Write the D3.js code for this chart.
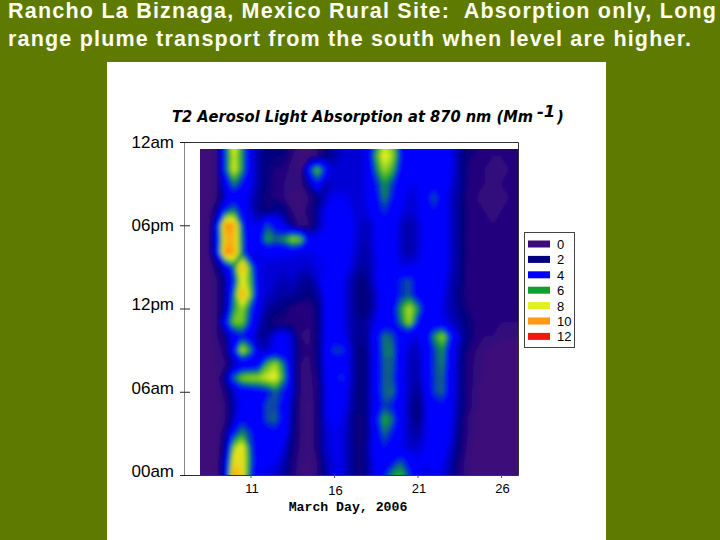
<!DOCTYPE html>
<html>
<head>
<meta charset="utf-8">
<script src="https://cdnjs.cloudflare.com/ajax/libs/d3/7.8.5/d3.min.js"></script>
<style>
html, body { margin: 0; padding: 0; background: #5f7a00; overflow: hidden; }
svg { display: block; }
text { font-family: "Liberation Sans", Arial, sans-serif; fill: #000; }
</style>
</head>
<body>
<svg id="chart" width="720" height="540"></svg>
<script>
var titleLines = [
    "Rancho La Biznaga, Mexico Rural Site:  Absorption only, Long",
    "range plume transport from the south when level are higher."
];
var titleWidths = [708, 683];
var chartTitle = "T2 Aerosol Light Absorption at 870 nm (Mm";
var xAxisTitle = "March Day, 2006";

var dayTicks = [11, 16, 21, 26];
var hourTicks = [24, 18, 12, 6, 0];
var hourLabels = ["12am", "06pm", "12pm", "06am", "00am"];
var legendValues = [0, 2, 4, 6, 8, 10, 12];
var legendColors = ["#3d0a7a", "#000080", "#0000ff", "#10a030", "#e0f020", "#ff9a10", "#f01810"];
// colour ramp of the plot, blue holds a little before it turns green
var rampStops = [0.6, 1.5, 3, 4.2, 6, 8, 10, 12];
var rampColors = ["#3d0a7a", "#000080", "#0000ff", "#0000ff", "#10a030", "#e0f020", "#ff9a10", "#f01810"];

// half day columns, 8 to 27
var days = [8, 8.5, 9, 9.5, 10, 10.5, 11, 11.5, 12, 12.5, 13, 13.5, 14, 14.5, 15, 15.5, 16, 16.5, 17, 17.5,
    18, 18.5, 19, 19.5, 20, 20.5, 21, 21.5, 22, 22.5, 23, 23.5, 24, 24.5, 25, 25.5, 26, 26.5, 27];
// hourly rows, top of the plot first
var hours = [24, 23, 22, 21, 20, 19, 18, 17, 16, 15, 14, 13, 12, 11, 10, 9, 8, 7, 6, 5, 4, 3, 2, 1, 0];

var absorption = [
    [0.5,0.5,1,5,9,6,3,2,1.5,1.5,  1.5,1.2,0.8,0.6,1,1.5,2,2.5,2.5,2.5,  3,5.5,7.5,7,4,3,3,3.5,4,4,  3,2,1.5,1.5,1.2,1.2,1.2,1.2,1.2],
    [0.5,0.5,1,5,8,6,3,2,1.5,1.5,  1.5,1,0.7,0.6,1,1.5,2,2.5,2.5,2.5,  3,6.3,8.5,7.5,4.5,3,3,3.5,4,3.8,  3,2,1.3,1.2,1,1,1,1,1],
    [0.5,0.5,1,5,8.2,6,3,2,1.5,1.2,  1.2,0.8,0.7,4.5,7,4.5,2.5,2.5,2.5,2.5,  3,5.5,7.5,6.5,4,3,3,3.5,4,3.8,  3,2,1.3,1,1,0.9,0.9,1,1],
    [0.5,0.5,1,3.5,5.8,4.5,3,2,1.5,1.2,  1,0.8,0.8,2,4.5,2,2.5,2.5,2.5,2.5,  3,4.5,6,5,3.5,3,3,3.5,4,3.5,  2.8,2,1.3,1,1,0.9,1,1,1],
    [0.5,0.5,1,2.5,3.8,3.5,2.5,1.8,1.3,1.2,  1,0.7,0.7,1,1.5,2.5,3,3,2.8,2.5,  3,4,5.8,4.5,3.5,2.5,2.8,4,5.3,3.5,  2.5,1.8,1.2,1,0.9,0.8,0.8,1,1],
    [0.5,0.5,2,5,6,4,2.5,1.8,1.5,2,  1.8,1,0.7,1.2,2,3,3.4,3.4,3,2.5,  2.8,3.8,4.8,4,3,2.5,2.8,3.8,4.5,3.5,  2.5,1.8,1.3,1,1,0.8,1,1,1],
    [0.5,0.7,3.5,10.5,10,5,3,3,5.2,4,  3,1.5,0.8,1,2,3,3.6,3.6,3.2,2.5,  2.3,3,4,3.5,2.5,2,2.5,3.5,4,3.5,  2.5,1.8,1.3,1,1,1,1,1,1],
    [0.5,0.8,3.5,9.5,9.5,5.5,3,4,6.2,5.5,  6,7.5,7,3.5,3,3.5,3.6,3.6,3.2,2.5,  2.2,3,3.8,3.2,2.5,2,2.5,3.5,3.8,3.5,  2.5,1.8,1.2,1,1,1,1,1,1],
    [0.5,0.8,3.5,10.5,10,5.5,3,2.8,3.2,3.2,  3,3,2.8,2.8,3,3.2,3.5,3.6,3,2.3,  2,3,4,3.5,2.5,2,2.5,3.5,4,3.5,  2.5,1.8,1.3,1,1,1,1,1,1],
    [0.5,0.6,1.5,3,5.5,10,6,3,2.5,2.5,  2.5,2.5,2.5,2.5,2.8,3,3.5,3.5,2.8,2,  2,2.8,3.8,3.5,2.8,3,3,3.8,4,3.5,  2.5,1.8,1.2,1,1,1,1,1,1],
    [0.5,0.5,1,2,4.5,8.5,6.5,3,2.5,2.5,  2.2,2.5,2,1.8,2.5,3.8,3.5,3,2.3,1.5,  1.8,2.8,3.8,3.8,4.8,5.2,4,3.8,3.8,3.2,  2.3,1.8,1.2,1,1,1,1,1.2,1.2],
    [0.5,0.5,1,2,5.5,10.2,7,3,2.5,2.2,  2,2,1.8,1.5,2,3,3.5,3,2.2,1.5,  1.5,2.5,3.5,3.5,4.8,5.2,4,3.5,3.5,3,  2.2,1.5,1.2,1,1,1,1.2,1.2,1.2],
    [0.5,0.5,1,2,6,7.5,5,2.8,2,1.8,  1.5,1.2,1,1,1.5,3,3.8,3,2.2,1.5,  1.5,2.5,3.5,4,6,7.8,6,3.8,3.5,2.8,  2.2,1.8,1.3,1,1,1,1,1,1],
    [0.5,0.5,1,4,7,7,4.5,2.5,1.5,1.2,  1.2,1.2,1,1,1.5,3,3.8,3,2.2,1.8,  2,3,3.8,3.8,5.5,7.5,4.5,3,3.5,3,  2.5,2,1.5,1.2,1,1,1,1,1],
    [0.5,0.5,1,1.5,3.5,4.5,3.5,1.8,2,3,  3.5,2.5,1,0.9,1.5,3,3.8,3.2,2.2,1.8,  2,3.8,5.6,5.2,3.5,3,2.8,3.5,6,7.5,  4.5,2.5,1.6,1.2,1,1,0.8,0.8,0.8],
    [0.5,0.5,0.8,1.2,4,8,6,2.5,2.5,3,  3.5,2.5,1.2,1,1.5,3.2,5,5,2.5,1.5,  1.8,3.5,5.6,5.6,3.5,2.5,2.3,3.3,5,6,  3.5,2.2,1.3,1,0.8,0.6,0.6,0.6,0.6],
    [0.5,0.5,0.8,1,2.2,3,3,3.5,6.5,7.5,  5.5,2.5,1,0.9,1.5,3,3.5,3.5,2.5,1.5,  1.8,3.5,5.4,5.4,3.5,2.3,2.2,3.3,5,5.8,  3.3,2,1.2,0.9,0.7,0.6,0.6,0.6,0.6],
    [0.5,0.5,0.7,2,5.5,7.2,7.5,7.5,8,8.3,  6,2.5,1,0.8,1.3,3,4,5,2.5,1.5,  1.8,3.5,5.4,5.2,3.3,2.3,2.2,3.2,5,5.5,  3.3,2,1.2,0.9,0.7,0.6,0.6,0.6,0.6],
    [0.5,0.5,0.7,1.2,2.5,3.3,3.5,3.8,4.3,5.4,  4.5,2.5,1,0.8,1.2,2.8,3.5,3.5,2.3,1.5,  1.8,3.5,5.5,5.6,3.5,2.3,1.8,3,5,5.5,  3.3,2,1.2,0.8,0.6,0.5,0.5,0.5,0.5],
    [0.5,0.5,0.6,1,2.2,3.2,3.5,3.8,5.2,5.2,  3.8,2,0.9,0.7,1.2,2.8,3.5,3.3,2.2,1.5,  1.8,3.5,5,4.5,3.3,2.2,1.3,2.8,4,4.3,  3,2,1.2,0.8,0.6,0.5,0.5,0.5,0.5],
    [0.5,0.5,0.6,1,2.3,4.3,4,3.8,5.2,5.4,  3.8,2,0.9,0.7,1.2,2.8,3.3,3,2,1.3,  1.8,4,6.4,5.5,3.3,2.2,1.5,2.8,3.8,4.4,  3,1.8,1,0.7,0.5,0.5,0.5,0.5,0.5],
    [0.5,0.5,0.6,1.5,4.5,6,4.8,3.5,3.8,4.2,  3.5,1.8,0.9,0.7,1.2,2.5,3,2.8,2,1.3,  1.8,3.5,5.5,4.5,3.2,2.3,2,2.8,3.8,4.3,  2.8,1.7,1,0.7,0.5,0.5,0.5,0.5,0.6],
    [0.5,0.5,0.6,2,7.2,8.6,5.2,3,3,3.3,  2.8,1.5,0.9,0.7,1.2,2.5,3,2.8,2,1.3,  2,3.8,4.6,3.5,3,2.5,2.5,3,3.5,3.5,  2.5,1.5,0.9,0.6,0.5,0.5,0.5,0.6,0.6],
    [0.5,0.5,0.6,2.8,8.6,8.6,5.5,3,3.2,3,  2.3,1.3,0.8,0.7,1,2.2,2.8,2.8,2,1.3,  2,3.2,4,4.2,5.2,4,3,3,3.2,3,  2.2,1.3,0.8,0.6,0.5,0.5,0.5,0.6,0.6],
    [0.5,0.5,0.6,3,10,9,5,3,2.8,2.5,  2,1.2,0.7,0.6,1,2,2.8,2.8,2,1.3,  2,3,4.5,6,6.5,5,3,2.8,3,2.8,  2,1.2,0.8,0.6,0.5,0.5,0.5,0.6,0.6]
];

var svg = d3.select("#chart");

var x = d3.scaleLinear().domain([11, 26]).range([250.5, 501]);
var y = d3.scaleLinear().domain([24, 0]).range([142, 475]);
var color = d3.scaleLinear().domain(rampStops).range(rampColors).clamp(true);

function drawPage() {
    svg.append("rect")
        .attr("x", 107).attr("y", 62)
        .attr("width", 499).attr("height", 478)
        .attr("fill", "#fff");

    svg.selectAll(".page-title")
        .data(titleLines)
        .enter()
        .append("text")
        .classed("page-title", true)
        .attr("x", 8)
        .attr("y", function(d, i) { return 18 + i * 28; })
        .attr("textLength", function(d, i) { return titleWidths[i]; })
        .attr("lengthAdjust", "spacing")
        .style("white-space", "pre")
        .style("font-size", "21.5px")
        .style("font-weight", "bold")
        .style("fill", "#fdfdf0")
        .text(function(d) { return d; });

    // chart title, superscript and closing bracket are separate texts
    svg.append("text")
        .attr("x", 172).attr("y", 122)
        .style("font-family", "'DejaVu Sans Condensed'")
        .style("font-weight", "bold")
        .style("font-style", "italic")
        .style("font-size", "16.3px")
        .text(chartTitle);
    svg.append("text")
        .attr("x", 537).attr("y", 117)
        .style("font-family", "'DejaVu Sans'")
        .style("font-weight", "bold")
        .style("font-style", "italic")
        .style("font-size", "16.5px")
        .text("-1");
    svg.append("text")
        .attr("x", 557).attr("y", 122)
        .style("font-family", "'DejaVu Sans'")
        .style("font-weight", "bold")
        .style("font-style", "italic")
        .style("font-size", "15px")
        .text(")");
}

function drawHeatmap() {
    var nx = days.length, ny = hours.length;
    var values = d3.merge(absorption);

    var thresholds = d3.range(0.25, 12.25, 0.25);
    var contours = d3.contours().size([nx, ny]).thresholds(thresholds)(values);

    var gridX = d3.scaleLinear().domain([0.5, nx - 0.5]).range([x(days[0]), x(days[nx - 1])]);
    var gridY = d3.scaleLinear().domain([0.5, ny - 0.5]).range([y(hours[0]), y(hours[ny - 1])]);
    var path = d3.geoPath(d3.geoTransform({
        point: function(px, py) { this.stream.point(gridX(px), gridY(py)); }
    }));

    var defs = svg.append("defs");
    defs.append("clipPath").attr("id", "plot-clip")
        .append("rect")
        .attr("x", 200).attr("y", 149)
        .attr("width", 318).attr("height", 326);
    defs.append("filter").attr("id", "soften")
        .attr("x", "-5%").attr("y", "-5%").attr("width", "110%").attr("height", "110%")
        .append("feGaussianBlur").attr("stdDeviation", 2);

    var plot = svg.append("g").attr("clip-path", "url(#plot-clip)")
        .append("g").attr("filter", "url(#soften)");

    plot.append("rect")
        .attr("x", 190).attr("y", 135)
        .attr("width", 340).attr("height", 350)
        .attr("fill", color(0.25));

    plot.selectAll("path")
        .data(contours)
        .enter()
        .append("path")
        .attr("d", path)
        .attr("fill", function(d) { return color(d.value); });
}

function drawAxes() {
    // frame round the plot
    svg.append("path")
        .attr("d", "M190,142.5H518.5V475.5H190")
        .attr("fill", "none")
        .attr("stroke", "#333")
        .attr("stroke-width", 1);
    svg.append("line")
        .attr("x1", 184.5).attr("x2", 184.5)
        .attr("y1", 142).attr("y2", 475)
        .attr("stroke", "#888");

    var xAxis = svg.append("g")
        .attr("transform", "translate(0,475)")
        .call(d3.axisBottom(x).tickValues(dayTicks).tickSize(3));
    xAxis.select(".domain").remove();
    xAxis.selectAll("line").attr("stroke", "#555");
    xAxis.selectAll("text")
        .style("font-size", "13px")
        .attr("x", 1)
        .attr("y", function(d) { return d === 16 ? 11 : 9; });

    var yAxis = svg.append("g")
        .attr("transform", "translate(190,0)")
        .call(d3.axisLeft(y).tickValues(hourTicks).tickSize(10)
            .tickFormat(function(d, i) { return hourLabels[i]; }));
    yAxis.select(".domain").remove();
    yAxis.selectAll("line").attr("stroke", "#222");
    yAxis.selectAll("text")
        .style("font-size", "17px")
        .attr("x", -16)
        .attr("dy", function(d, i) { return [5, 5, 1, 2, 1][i]; });

    svg.append("text")
        .attr("x", 348).attr("y", 511)
        .attr("text-anchor", "middle")
        .style("font-family", "'Liberation Mono'")
        .style("font-weight", "bold")
        .style("font-size", "13.2px")
        .text(xAxisTitle);
}

function drawLegend() {
    svg.append("rect")
        .attr("x", 524.5).attr("y", 232.5)
        .attr("width", 50).attr("height", 115)
        .attr("fill", "#fff")
        .attr("stroke", "#444");

    var rows = svg.selectAll(".legend-row")
        .data(legendValues)
        .enter()
        .append("g")
        .classed("legend-row", true)
        .attr("transform", function(d, i) { return "translate(528," + (244 + i * 15.4) + ")"; });

    rows.append("rect")
        .attr("y", -3.5)
        .attr("width", 22).attr("height", 7)
        .attr("fill", function(d, i) { return legendColors[i]; });

    rows.append("text")
        .attr("x", 29).attr("y", 5)
        .style("font-size", "13px")
        .text(function(d) { return d; });
}

drawPage();
drawHeatmap();
drawAxes();
drawLegend();
</script>
</body>
</html>
